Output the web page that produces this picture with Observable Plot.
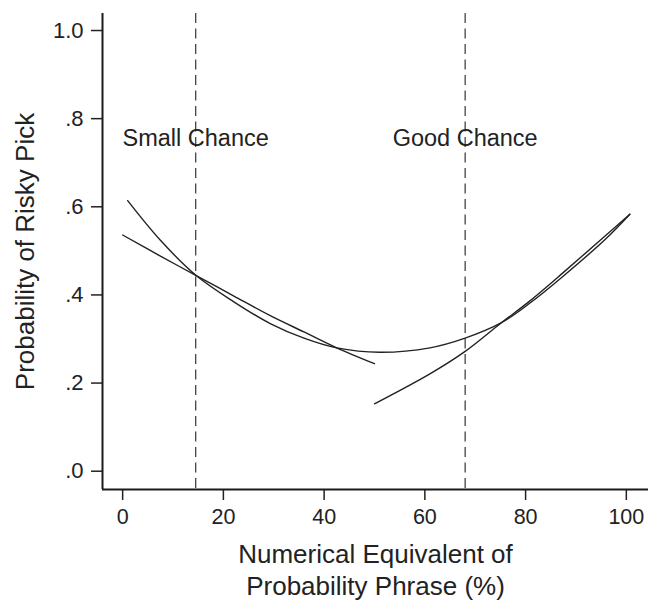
<!DOCTYPE html>
<html><head><meta charset="utf-8">
<script src="https://cdn.jsdelivr.net/npm/d3@7"></script>
<script src="https://cdn.jsdelivr.net/npm/@observablehq/plot@0.6"></script>
<style>body{margin:0;background:#fff}</style>
</head><body><div id="chart"></div>
<script>
// Quadratic fit across the whole range
const quadX = [1, 7.5, 14.6, 22, 29.3, 36, 42.5, 51, 61, 68, 75.2, 80.8, 87.4, 96, 100.7];
const quadY = [0.614, 0.524, 0.444, 0.385, 0.335, 0.302, 0.280, 0.270, 0.280, 0.302, 0.337, 0.381, 0.442, 0.528, 0.583];
// Lower-half fit (0–50)
const lowX = [0, 7.5, 14.6, 22, 29.3, 36, 42.5, 50];
const lowY = [0.536, 0.488, 0.444, 0.398, 0.353, 0.316, 0.280, 0.244];
// Upper-half fit (50–100)
const highX = [50, 61, 68, 75.2, 80.8, 87.4, 96, 100.7];
const highY = [0.153, 0.221, 0.272, 0.337, 0.386, 0.450, 0.536, 0.583];
// Phrase thresholds
const phraseNames = ["Small Chance", "Good Chance"];
const phraseX = [14.5, 68];
const labelY = 0.755;
// Axes
const xTicks = [0, 20, 40, 60, 80, 100];
const yTicks = [0, 0.2, 0.4, 0.6, 0.8, 1.0];
const yTickLabels = [".0", ".2", ".4", ".6", ".8", "1.0"];
const xDomain = [-4, 104.4];
const yDomain = [-0.0415, 1.0386];
const xTitle = "Numerical Equivalent of\nProbability Phrase (%)";
const yTitle = "Probability of Risky Pick";

const mk = (xs, ys) => xs.map((x, i) => ({x, y: ys[i]}));
const quad = mk(quadX, quadY);
const low = mk(lowX, lowY);
const high = mk(highX, highY);
const phrases = phraseNames.map((name, i) => ({name, x: phraseX[i], y: labelY}));
const yLab = new Map(yTicks.map((t, i) => [t, yTickLabels[i]]));
const ink = "#222";

const chart = Plot.plot({
  width: 648, height: 603,
  marginTop: 13, marginBottom: 114, marginLeft: 102, marginRight: 0,
  style: {fontFamily: "'Liberation Sans', Arial, Helvetica, sans-serif", color: ink, background: "#fff"},
  x: {domain: xDomain},
  y: {domain: yDomain},
  marks: [
    Plot.ruleX(phrases, {x: "x", stroke: "#444", strokeWidth: 1.3, strokeDasharray: "10,5.5"}),
    Plot.line(quad, {x: "x", y: "y", curve: "catmull-rom", stroke: ink, strokeWidth: 1.4}),
    Plot.line(low, {x: "x", y: "y", curve: "catmull-rom", stroke: ink, strokeWidth: 1.4}),
    Plot.line(high, {x: "x", y: "y", curve: "catmull-rom", stroke: ink, strokeWidth: 1.4}),
    Plot.text(phrases, {x: "x", y: "y", text: "name", fontSize: 23.5, fill: ink}),
    Plot.axisY({ticks: yTicks, tickFormat: d => yLab.get(d), tickSize: 11, tickPadding: 8, fontSize: 22, strokeWidth: 1.5, label: null}),
    Plot.axisX({ticks: xTicks, tickSize: 11, tickPadding: 8, fontSize: 21.5, strokeWidth: 1.5, label: null}),
    Plot.ruleX([xDomain[0]], {stroke: "#1a1a1a", strokeWidth: 2}),
    Plot.ruleY([yDomain[0]], {stroke: "#1a1a1a", strokeWidth: 2}),
    Plot.text([xTitle], {frameAnchor: "bottom", dy: 79, fontSize: 26, lineHeight: 1.23, lineAnchor: "middle", fill: ink}),
    Plot.text([yTitle], {frameAnchor: "left", dx: -77, rotate: -90, textAnchor: "middle", fontSize: 26, fill: ink})
  ]
});
document.getElementById("chart").append(chart);
</script>
</body></html>
